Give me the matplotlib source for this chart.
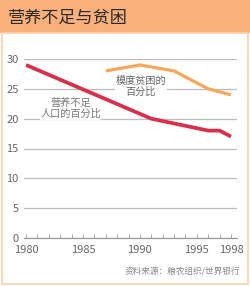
import matplotlib
matplotlib.use("Agg")
import matplotlib.pyplot as plt
from matplotlib.patches import Rectangle

plt.rcParams['font.family'] = ['Noto Sans CJK SC', 'DejaVu Sans']

# 营养不足人口的百分比
yrs_under = [1980, 1991, 1996, 1997, 1998]
val_under = [29, 20, 18, 18, 17]

# 极度贫困的百分比
yrs_pov = [1987, 1990, 1993, 1996, 1998]
val_pov = [28, 29, 28, 25, 24]

x_major = [1980, 1985, 1990, 1995, 1998]
y_major = [0, 5, 10, 15, 20, 25, 30]

title = "营养不足与贫困"
source = "资料来源：粮农组织/世界银行"

fig = plt.figure(figsize=(2.5, 2.86), dpi=100)
fig.patch.set_facecolor("white")

# title bar and frame
fig.patches.append(Rectangle((0, 1 - 33/286), 1, 33/286, transform=fig.transFigure,
                             facecolor="#F9B07A", edgecolor="none", zorder=0))
fig.patches.append(Rectangle((2/250, 2/286), 246/250, (286-35)/286, transform=fig.transFigure,
                             facecolor="none", edgecolor="#F7D3AE", lw=1.2, zorder=0))
fig.text(8/250, 1 - 18/286, title, fontsize=12.3, color="#2a2a2a", va="center", ha="left")

ax = fig.add_axes([24/250, 48/286, 213/250, 179/286])
ax.set_xlim(1979.82, 1998.53)
ax.set_ylim(0, 30)

for y in y_major[1:]:
    ax.axhline(y, color="#bdbdbd", lw=0.9, zorder=1)

ax.plot(yrs_under, val_under, color="#D8304A", lw=2.7, solid_capstyle="butt", clip_on=False, zorder=3)
ax.plot(yrs_pov, val_pov, color="#F7A75A", lw=2.3, solid_capstyle="butt", clip_on=False, zorder=3)

ax.text(1990.1, 25.4, "模度贫困的\n百分比", fontsize=7.3, color="#666666", ha="center", va="center",
        linespacing=1.15, zorder=2, bbox=dict(facecolor="white", edgecolor="none", pad=0.3))
ax.text(1983.9, 21.7, "营养不足\n人口的百分比", fontsize=7.3, color="#777777", ha="center", va="center",
        linespacing=1.15, zorder=2, bbox=dict(facecolor="white", edgecolor="none", pad=0.3))

for s in ["top", "right", "left"]:
    ax.spines[s].set_visible(False)
ax.spines["bottom"].set_color("#999999")
ax.spines["bottom"].set_linewidth(0.9)

ax.set_yticks(y_major)
ax.set_yticklabels([str(v) for v in y_major])
ax.set_xticks(x_major)
ax.set_xticklabels([str(v) for v in x_major])
ax.set_xticks(range(1980, 1999), minor=True)
ax.tick_params(axis="y", length=0, pad=4, labelsize=8, labelcolor="#666666")
ax.tick_params(axis="x", which="both", direction="in", length=3, width=0.6, color="#999999",
               pad=5, labelsize=8, labelcolor="#666666")

fig.text(240/250, 1 - 272/286, source, fontsize=6.2, color="#888888", ha="right", va="center")

fig.savefig("out.png", dpi=100)
